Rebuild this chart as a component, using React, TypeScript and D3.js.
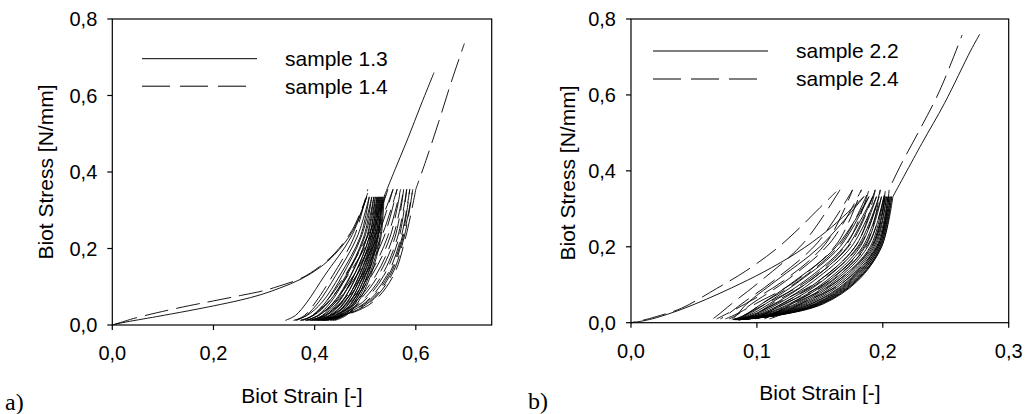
import React from 'react';
import * as d3 from 'd3';

// ---- data ----
const STRESS_TICKS = [0, 0.2, 0.4, 0.6, 0.8];
const A_STRAIN_TICKS = [0, 0.2, 0.4, 0.6];
const B_STRAIN_TICKS = [0, 0.1, 0.2, 0.3];

const A_LABELS = ['sample 1.3', 'sample 1.4'];
const B_LABELS = ['sample 2.2', 'sample 2.4'];

// sample 1.3 (solid)
const S13_FIRST = [
  [0, 0], [0.02, 0.006], [0.088, 0.022], [0.15, 0.037], [0.2, 0.05], [0.253, 0.065],
  [0.293, 0.079], [0.33, 0.096], [0.373, 0.12], [0.41, 0.15], [0.44, 0.185],
  [0.475, 0.245], [0.503, 0.335],
];
// strains of each unload / reload branch, read at these stress levels
const S13_LEVELS = [0.012, 0.025, 0.06, 0.13, 0.23, 0.335];
const S13_CYCLES = [
  [0.342, 0.362, 0.385, 0.420, 0.472, 0.503],
  [0.358, 0.385, 0.415, 0.450, 0.490, 0.508],
  [0.364, 0.383, 0.408, 0.442, 0.484, 0.508],
  [0.372, 0.398, 0.428, 0.462, 0.497, 0.513],
  [0.376, 0.396, 0.422, 0.455, 0.492, 0.513],
  [0.382, 0.408, 0.438, 0.471, 0.503, 0.517],
  [0.386, 0.406, 0.432, 0.464, 0.499, 0.517],
  [0.391, 0.417, 0.446, 0.478, 0.508, 0.520],
  [0.394, 0.415, 0.441, 0.472, 0.504, 0.520],
  [0.398, 0.424, 0.453, 0.484, 0.512, 0.523],
  [0.402, 0.422, 0.448, 0.478, 0.508, 0.523],
  [0.406, 0.431, 0.459, 0.489, 0.515, 0.525],
  [0.408, 0.429, 0.454, 0.483, 0.511, 0.525],
  [0.412, 0.437, 0.464, 0.493, 0.518, 0.527],
  [0.415, 0.435, 0.460, 0.488, 0.514, 0.527],
  [0.418, 0.443, 0.469, 0.497, 0.521, 0.529],
  [0.421, 0.441, 0.465, 0.492, 0.517, 0.529],
  [0.424, 0.448, 0.474, 0.501, 0.524, 0.531],
  [0.426, 0.446, 0.470, 0.496, 0.520, 0.531],
  [0.430, 0.453, 0.478, 0.505, 0.526, 0.533],
  [0.432, 0.451, 0.475, 0.500, 0.523, 0.533],
  [0.435, 0.458, 0.482, 0.508, 0.529, 0.535],
  [0.437, 0.456, 0.479, 0.504, 0.525, 0.535],
  [0.440, 0.462, 0.486, 0.511, 0.531, 0.537],
];
const S13_LAST = [
  [0.537, 0.335], [0.56, 0.41], [0.585, 0.49], [0.61, 0.575], [0.636, 0.66],
];

// sample 1.4 (dashed)
const S14_FIRST = [
  [0, 0], [0.02, 0.008], [0.042, 0.017], [0.088, 0.032], [0.15, 0.05], [0.2, 0.063],
  [0.253, 0.077], [0.3, 0.09], [0.33, 0.102], [0.373, 0.122], [0.41, 0.153],
  [0.44, 0.188], [0.475, 0.25], [0.505, 0.345],
];
const S14_LEVELS = [0.012, 0.025, 0.06, 0.13, 0.23, 0.355];
const S14_CYCLES = [
  [0.362, 0.380, 0.402, 0.436, 0.478, 0.505],
  [0.372, 0.396, 0.426, 0.466, 0.510, 0.545],
  [0.376, 0.396, 0.422, 0.460, 0.504, 0.545],
  [0.382, 0.408, 0.442, 0.483, 0.524, 0.555],
  [0.386, 0.408, 0.438, 0.477, 0.518, 0.555],
  [0.390, 0.420, 0.457, 0.499, 0.537, 0.563],
  [0.394, 0.420, 0.453, 0.494, 0.532, 0.563],
  [0.398, 0.431, 0.471, 0.513, 0.549, 0.570],
  [0.401, 0.431, 0.467, 0.508, 0.544, 0.570],
  [0.404, 0.440, 0.484, 0.526, 0.559, 0.576],
  [0.407, 0.440, 0.480, 0.521, 0.555, 0.576],
  [0.410, 0.448, 0.495, 0.537, 0.567, 0.582],
  [0.412, 0.448, 0.491, 0.533, 0.564, 0.582],
  [0.414, 0.453, 0.504, 0.546, 0.573, 0.588],
  [0.416, 0.453, 0.501, 0.543, 0.571, 0.588],
  [0.418, 0.457, 0.510, 0.552, 0.577, 0.594],
  [0.419, 0.457, 0.508, 0.549, 0.575, 0.594],
  [0.420, 0.460, 0.515, 0.556, 0.580, 0.600],
];
const S14_LAST = [
  [0.600, 0.355], [0.62, 0.43], [0.645, 0.53], [0.67, 0.635], [0.696, 0.736],
];

// sample 2.2 (solid)
const S22_FIRST = [
  [0, 0], [0.01, 0.005], [0.02, 0.013], [0.04, 0.035], [0.06, 0.062], [0.08, 0.092],
  [0.105, 0.133], [0.132, 0.185], [0.155, 0.24], [0.172, 0.29], [0.185, 0.332],
];
const S22_LEVELS = [0.008, 0.02, 0.05, 0.11, 0.20, 0.332];
const S22_CYCLES = [
  [0.080, 0.084, 0.092, 0.115, 0.150, 0.185],
  [0.081, 0.090, 0.104, 0.130, 0.163, 0.189],
  [0.081, 0.092, 0.107, 0.134, 0.166, 0.189],
  [0.082, 0.094, 0.110, 0.138, 0.169, 0.192],
  [0.082, 0.096, 0.114, 0.142, 0.172, 0.192],
  [0.083, 0.098, 0.117, 0.145, 0.175, 0.195],
  [0.083, 0.100, 0.120, 0.149, 0.178, 0.195],
  [0.084, 0.101, 0.123, 0.152, 0.180, 0.197],
  [0.084, 0.103, 0.126, 0.155, 0.182, 0.197],
  [0.084, 0.104, 0.128, 0.157, 0.184, 0.199],
  [0.084, 0.106, 0.131, 0.160, 0.186, 0.199],
  [0.085, 0.107, 0.133, 0.162, 0.188, 0.201],
  [0.085, 0.108, 0.135, 0.164, 0.190, 0.201],
  [0.085, 0.109, 0.137, 0.166, 0.191, 0.202],
  [0.085, 0.110, 0.139, 0.168, 0.192, 0.202],
  [0.086, 0.111, 0.141, 0.170, 0.193, 0.203],
  [0.086, 0.112, 0.143, 0.172, 0.194, 0.203],
  [0.086, 0.113, 0.144, 0.173, 0.195, 0.204],
  [0.086, 0.114, 0.146, 0.174, 0.196, 0.204],
  [0.086, 0.115, 0.147, 0.175, 0.196, 0.205],
  [0.086, 0.116, 0.148, 0.176, 0.197, 0.205],
  [0.086, 0.116, 0.149, 0.177, 0.197, 0.206],
  [0.086, 0.117, 0.150, 0.178, 0.198, 0.206],
  [0.086, 0.117, 0.151, 0.179, 0.198, 0.207],
  [0.085, 0.117, 0.152, 0.179, 0.199, 0.207],
  [0.085, 0.118, 0.153, 0.180, 0.199, 0.208],
];
const S22_LAST = [
  [0.208, 0.332], [0.231, 0.472], [0.249, 0.578], [0.270, 0.718], [0.277, 0.76],
];

// sample 2.4 (dashed)
const S24_FIRST = [
  [0, 0], [0.01, 0.007], [0.02, 0.016], [0.04, 0.038], [0.068, 0.09], [0.092, 0.138],
  [0.116, 0.196], [0.134, 0.25], [0.15, 0.303], [0.163, 0.345],
];
const S24_LEVELS = [0.010, 0.02, 0.05, 0.11, 0.21, 0.35];
const S24_CYCLES = [
  [0.065, 0.069, 0.080, 0.103, 0.137, 0.166],
  [0.068, 0.074, 0.091, 0.121, 0.155, 0.176],
  [0.071, 0.076, 0.088, 0.113, 0.148, 0.176],
  [0.075, 0.082, 0.099, 0.131, 0.164, 0.183],
  [0.078, 0.084, 0.096, 0.123, 0.158, 0.183],
  [0.082, 0.090, 0.107, 0.140, 0.172, 0.189],
  [0.085, 0.091, 0.104, 0.133, 0.167, 0.189],
  [0.089, 0.097, 0.115, 0.149, 0.180, 0.194],
  [0.092, 0.098, 0.112, 0.142, 0.175, 0.194],
  [0.096, 0.104, 0.122, 0.157, 0.187, 0.198],
  [0.099, 0.105, 0.120, 0.151, 0.183, 0.198],
  [0.103, 0.111, 0.129, 0.164, 0.193, 0.202],
  [0.106, 0.112, 0.127, 0.159, 0.189, 0.202],
  [0.110, 0.118, 0.135, 0.170, 0.197, 0.205],
];
const S24_LAST = [
  [0.205, 0.352], [0.215, 0.42], [0.228, 0.50], [0.245, 0.61], [0.263, 0.758],
];

// ---- layout ----
const FONT = '"Liberation Sans", Arial, sans-serif';
const SERIF = '"Liberation Serif", "Times New Roman", serif';
const DASH = '24,8';

type Series = { first: number[][]; levels: number[]; cycles: number[][]; last: number[][]; dashed: boolean };

const PANELS = [
  {
    tag: 'a)', tagX: 5, tagY: 410,
    xMax: 0.75, xTicks: A_STRAIN_TICKS, labels: A_LABELS,
    left: 112.3, right: 491.7, top: 19, bottom: 325,
    yTitleX: 53, yTitleY: 172, xTitleX: 302, xTitleY: 403,
    legX1: 142, legX2: 257, legY: 58.7, legGap: 27.5, legTextX: 285,
    series: [
      { first: S13_FIRST, levels: S13_LEVELS, cycles: S13_CYCLES, last: S13_LAST, dashed: false },
      { first: S14_FIRST, levels: S14_LEVELS, cycles: S14_CYCLES, last: S14_LAST, dashed: true },
    ] as Series[],
  },
  {
    tag: 'b)', tagX: 528, tagY: 409,
    xMax: 0.3, xTicks: B_STRAIN_TICKS, labels: B_LABELS,
    left: 631, right: 1008.7, top: 19, bottom: 322.7,
    yTitleX: 575, yTitleY: 173, xTitleX: 820, xTitleY: 400,
    legX1: 653, legX2: 768, legY: 51, legGap: 28, legTextX: 796,
    series: [
      { first: S22_FIRST, levels: S22_LEVELS, cycles: S22_CYCLES, last: S22_LAST, dashed: false },
      { first: S24_FIRST, levels: S24_LEVELS, cycles: S24_CYCLES, last: S24_LAST, dashed: true },
    ] as Series[],
  },
];

const fmt = (v: number) => d3.format('.1f')(v).replace('.', ',');

function Panel({ p }: { p: (typeof PANELS)[number] }) {
  const x = d3.scaleLinear().domain([0, p.xMax]).range([p.left, p.right]);
  const y = d3.scaleLinear().domain([0, 0.8]).range([p.bottom, p.top]);
  const line = d3
    .line<number[]>()
    .x((d) => x(d[0]))
    .y((d) => y(d[1]))
    .curve(d3.curveCatmullRom.alpha(0.5));

  const paths: { d: string; dashed: boolean }[] = [];
  p.series.forEach((s) => {
    paths.push({ d: line(s.first) || '', dashed: s.dashed });
    s.cycles.forEach((c) => {
      const pts = c.map((strain, i) => [strain, s.levels[i]]);
      paths.push({ d: line(pts) || '', dashed: s.dashed });
    });
    paths.push({ d: line(s.last) || '', dashed: s.dashed });
  });

  return (
    <g>
      {paths.map((pt, i) => (
        <path
          key={i}
          d={pt.d}
          fill="none"
          stroke="#000"
          strokeWidth={0.9}
          strokeDasharray={pt.dashed ? DASH : undefined}
          strokeDashoffset={pt.dashed ? (i * 11) % 32 : undefined}
        />
      ))}

      {/* frame */}
      <rect
        x={p.left}
        y={p.top}
        width={p.right - p.left}
        height={p.bottom - p.top}
        fill="none"
        stroke="#000"
        strokeWidth={1.2}
      />

      {/* y axis */}
      {STRESS_TICKS.map((t) => (
        <g key={'y' + t}>
          <line x1={p.left - 5} x2={p.left} y1={y(t)} y2={y(t)} stroke="#000" strokeWidth={1.2} />
          <text
            x={p.left - 15}
            y={y(t)}
            dy="0.35em"
            textAnchor="end"
            fontFamily={FONT}
            fontSize={20}
          >
            {fmt(t)}
          </text>
        </g>
      ))}

      {/* x axis */}
      {p.xTicks.map((t) => (
        <g key={'x' + t}>
          <line x1={x(t)} x2={x(t)} y1={p.bottom} y2={p.bottom + 5} stroke="#000" strokeWidth={1.2} />
          <text x={x(t)} y={p.bottom + 35} textAnchor="middle" fontFamily={FONT} fontSize={20}>
            {fmt(t)}
          </text>
        </g>
      ))}

      <text
        transform={`translate(${p.yTitleX},${p.yTitleY}) rotate(-90)`}
        textAnchor="middle"
        fontFamily={FONT}
        fontSize={21}
      >
        Biot Stress [N/mm]
      </text>
      <text x={p.xTitleX} y={p.xTitleY} textAnchor="middle" fontFamily={FONT} fontSize={21}>
        Biot Strain [-]
      </text>

      {/* legend */}
      {p.labels.map((lab, i) => (
        <g key={lab}>
          <line
            x1={p.legX1}
            x2={i === 1 ? p.legX1 + 104 : p.legX2}
            y1={p.legY + i * p.legGap}
            y2={p.legY + i * p.legGap}
            stroke="#000"
            strokeWidth={1}
            strokeDasharray={i === 1 ? '28,10' : undefined}
          />
          <text
            x={p.legTextX}
            y={p.legY + i * p.legGap}
            dy="0.35em"
            fontFamily={FONT}
            fontSize={21}
          >
            {lab}
          </text>
        </g>
      ))}

      <text x={p.tagX} y={p.tagY} fontFamily={SERIF} fontSize={24}>
        {p.tag}
      </text>
    </g>
  );
}

export default function App() {
  return (
    <div style={{ position: 'absolute', left: 0, top: 0 }}>
      <svg width={1025} height={414} style={{ display: 'block', background: '#fff' }}>
        {PANELS.map((p) => (
          <Panel key={p.tag} p={p} />
        ))}
      </svg>
    </div>
  );
}
